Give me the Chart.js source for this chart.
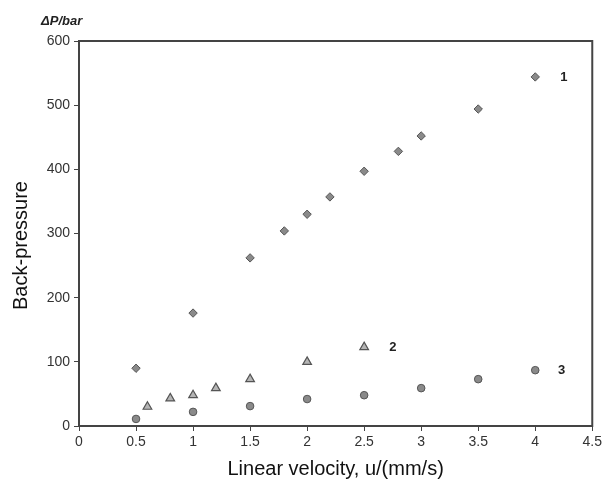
<!DOCTYPE html>
<html><head><meta charset="utf-8">
<script src="https://cdn.jsdelivr.net/npm/chart.js@4/dist/chart.umd.min.js"></script>
<style>html,body{margin:0;padding:0;background:#fff}#wrap{width:605px;height:485px}</style>
</head><body><div id="wrap"><canvas id="c" width="605" height="485"></canvas></div>
<script>
const s1x = [0.5, 1, 1.5, 1.8, 2, 2.2, 2.5, 2.8, 3, 3.5, 4];
const s1y = [90, 176, 262, 304, 330, 357, 397, 428, 452, 494, 544];
const s2x = [0.6, 0.8, 1, 1.2, 1.5, 2, 2.5];
const s2y = [30, 43, 48, 59, 73, 100, 123];
const s3x = [0.5, 1, 1.5, 2, 2.5, 3, 3.5, 4];
const s3y = [11, 22, 31, 42, 48, 59, 73, 87];
const xTicks = [0, 0.5, 1, 1.5, 2, 2.5, 3, 3.5, 4, 4.5];
const yTicks = [0, 100, 200, 300, 400, 500, 600];
const seriesLabels = [{t:'1', x:4.22, y:544}, {t:'2', x:2.72, y:123}, {t:'3', x:4.2, y:87}];
const yTitle = 'Back-pressure';
const unitTitle = 'ΔP/bar';

const pts = (xs, ys) => xs.map((x, i) => ({x, y: ys[i]}));
const FONT = '"Liberation Sans", Arial, sans-serif';

const framePlugin = {
  id: 'frame',
  afterDraw(chart) {
    const {ctx, chartArea: a, scales} = chart;
    ctx.save();
    ctx.strokeStyle = '#444';
    ctx.lineWidth = 2;
    ctx.strokeRect(a.left, a.top, a.right - a.left, a.bottom - a.top);
    ctx.fillStyle = '#222';
    ctx.font = 'bold 13px ' + FONT;
    ctx.textBaseline = 'middle';
    seriesLabels.forEach(l => {
      ctx.fillText(l.t, scales.x.getPixelForValue(l.x), scales.y.getPixelForValue(l.y));
    });
    ctx.font = 'italic bold 13px ' + FONT;
    ctx.textBaseline = 'alphabetic';
    ctx.fillText(unitTitle, a.left - 38, a.top - 16);
    // y-axis title
    ctx.fillStyle = '#111';
    ctx.font = '20px ' + FONT;
    ctx.translate(27, (a.top + a.bottom) / 2 + 12);
    ctx.rotate(-Math.PI / 2);
    ctx.textAlign = 'center';
    ctx.textBaseline = 'alphabetic';
    ctx.fillText(yTitle, 0, 0);
    ctx.restore();
  }
};

new Chart(document.getElementById('c'), {
  type: 'scatter',
  data: {
    datasets: [
      {label: '1', data: pts(s1x, s1y), pointStyle: 'rectRot', pointRadius: 4.2, backgroundColor: '#8a8a8a', borderColor: '#555', borderWidth: 1},
      {label: '2', data: pts(s2x, s2y), pointStyle: 'triangle', pointRadius: 5, backgroundColor: '#b5b5b5', borderColor: '#555', borderWidth: 1.2},
      {label: '3', data: pts(s3x, s3y), pointStyle: 'circle', pointRadius: 3.8, backgroundColor: '#8a8a8a', borderColor: '#555', borderWidth: 1}
    ]
  },
  options: {
    responsive: false,
    animation: false,
    devicePixelRatio: 1,
    layout: {padding: {top: 41, right: 12, left: 0, bottom: 4}},
    plugins: {legend: {display: false}, tooltip: {enabled: false}},
    scales: {
      x: {
        type: 'linear', min: 0, max: 4.5,
        afterBuildTicks: s => { s.ticks = xTicks.map(v => ({value: v})); },
        afterFit: s => { s.height = 55; },
        grid: {display: true, drawOnChartArea: false, drawTicks: true, tickLength: 5, color: '#444', lineWidth: 1},
        border: {display: true, color: '#444', width: 2},
        ticks: {color: '#333', font: {size: 14, family: FONT}, padding: 3, maxRotation: 0, callback: v => String(v)},
        title: {display: true, text: 'Linear velocity, u/(mm/s)', color: '#111', font: {size: 20, family: FONT}, padding: {top: 2, bottom: 0}}
      },
      y: {
        type: 'linear', min: 0, max: 600,
        afterBuildTicks: s => { s.ticks = yTicks.map(v => ({value: v})); },
        afterFit: s => { s.width = 79; },
        grid: {display: true, drawOnChartArea: false, drawTicks: true, tickLength: 5, color: '#444', lineWidth: 1},
        border: {display: true, color: '#444', width: 2},
        ticks: {color: '#333', font: {size: 14, family: FONT}, padding: 4, callback: v => String(v)}
      }
    }
  },
  plugins: [framePlugin]
});
</script></body></html>
